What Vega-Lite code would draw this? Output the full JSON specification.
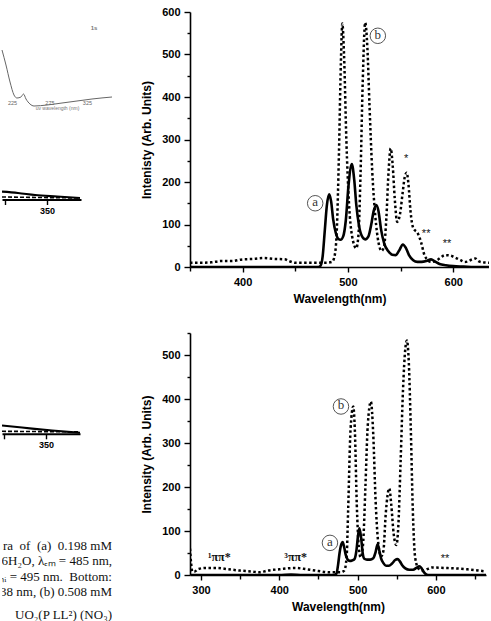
{
  "$schema": "https://vega.github.io/schema/vega-lite/v6.json",
  "padding": {"left": 0, "top": 6, "right": 0, "bottom": 8},
  "background": "white",
  "spacing": 26,
  "config": {
    "view": {"stroke": null},
    "axis": {
      "domainColor": "black", "domainWidth": 1.6, "tickColor": "black", "tickWidth": 1.4,
      "labelFont": "Liberation Sans", "labelFontWeight": "bold", "labelFontSize": 11, "labelColor": "black",
      "titleFont": "Liberation Sans", "titleFontWeight": "bold", "titleFontSize": 12, "titleColor": "black",
      "grid": false
    }
  },
  "datasets": {
    "uv": [
      {"wl":211.7,"A":60},{"wl":217,"A":45},{"wl":222.4,"A":28},{"wl":227.7,"A":15},{"wl":231.7,"A":12},{"wl":237,"A":13},{"wl":240.4,"A":16},{"wl":243.7,"A":11},{"wl":249,"A":6},{"wl":254.4,"A":4},{"wl":271.7,"A":5},{"wl":291.7,"A":7},{"wl":311.7,"A":9},{"wl":331.7,"A":11},{"wl":358.4,"A":13}
    ],
    "uvNote": [{"wl":334.4,"A":82,"label":"1s"}],
    "midA": [
      {"wl":323.2,"I":7.8},{"wl":332.7,"I":6.5},{"wl":342.9,"I":4.5},{"wl":356,"I":3},{"wl":369.6,"I":1.5}
    ],
    "midB": [
      {"wl":323.2,"I":2.5},{"wl":347,"I":2},{"wl":369.6,"I":1.5}
    ],
    "lowA": [
      {"wl":323.8,"I":8.3},{"wl":335.7,"I":6.3},{"wl":353.6,"I":3.3},{"wl":370.2,"I":1}
    ],
    "lowB": [
      {"wl":323.8,"I":2.5},{"wl":347,"I":2.2},{"wl":370.2,"I":2}
    ],
    "caption": [
      {"row":1,"t":"ra\u00a0\u00a0of\u00a0\u00a0(a)\u00a0\u00a00.198\u00a0mM"},
      {"row":2,"t":"6H₂O, λₑₘ = 485 nm,"},
      {"row":3,"t":"ₙᵢ = 495 nm.\u00a0\u00a0Bottom:"},
      {"row":4,"t":"38 nm, (b) 0.508 mM"},
      {"row":5.5,"t":"UO₂(P LL²) (NO₃)"}
    ],
    "topA": [
      {"wl":350,"I":0},{"wl":400,"I":0},{"wl":450,"I":0},{"wl":472,"I":0},{"wl":474,"I":3},{"wl":476,"I":25},{"wl":478,"I":85},{"wl":480,"I":145},{"wl":482.2,"I":171},{"wl":484,"I":155},{"wl":486,"I":112},{"wl":488.5,"I":80},{"wl":491,"I":66},{"wl":493,"I":64},{"wl":495.5,"I":72},{"wl":498,"I":110},{"wl":500.5,"I":190},{"wl":503.7,"I":242},{"wl":506,"I":205},{"wl":508,"I":145},{"wl":510.5,"I":98},{"wl":513,"I":74},{"wl":516.4,"I":65},{"wl":519.5,"I":72},{"wl":522,"I":98},{"wl":524.5,"I":132},{"wl":527,"I":146},{"wl":529,"I":132},{"wl":531.5,"I":88},{"wl":534.5,"I":55},{"wl":538,"I":38},{"wl":542,"I":29},{"wl":545.5,"I":28},{"wl":548.5,"I":38},{"wl":552.2,"I":53},{"wl":555,"I":45},{"wl":558,"I":28},{"wl":562,"I":16},{"wl":566,"I":12},{"wl":570,"I":12},{"wl":574.5,"I":14},{"wl":579,"I":18},{"wl":582.5,"I":13},{"wl":587,"I":7},{"wl":593,"I":4},{"wl":600,"I":2},{"wl":610,"I":1},{"wl":620,"I":0},{"wl":634,"I":0}
    ],
    "topB": [
      {"wl":350,"I":10},{"wl":360,"I":10},{"wl":370,"I":11},{"wl":380,"I":14},{"wl":390,"I":14},{"wl":400,"I":18},{"wl":410,"I":19},{"wl":420,"I":21},{"wl":430,"I":19},{"wl":440,"I":18},{"wl":445,"I":13},{"wl":450,"I":10},{"wl":460,"I":10},{"wl":470,"I":10},{"wl":480,"I":10},{"wl":485,"I":12},{"wl":487.5,"I":28},{"wl":489.5,"I":90},{"wl":491.5,"I":270},{"wl":493.3,"I":480},{"wl":494.7,"I":573},{"wl":496.3,"I":500},{"wl":498.5,"I":300},{"wl":501,"I":150},{"wl":504,"I":72},{"wl":507.9,"I":44},{"wl":510,"I":75},{"wl":512,"I":220},{"wl":514,"I":430},{"wl":516.4,"I":575},{"wl":518.5,"I":515},{"wl":520.5,"I":380},{"wl":523,"I":230},{"wl":526,"I":120},{"wl":529,"I":58},{"wl":532,"I":38},{"wl":534.3,"I":48},{"wl":536.5,"I":115},{"wl":538.5,"I":220},{"wl":540.6,"I":279},{"wl":542.5,"I":240},{"wl":544.5,"I":160},{"wl":546.8,"I":106},{"wl":549.5,"I":125},{"wl":552,"I":175},{"wl":554,"I":212},{"wl":555.8,"I":222},{"wl":557.5,"I":195},{"wl":559.5,"I":130},{"wl":562,"I":92},{"wl":566.4,"I":79},{"wl":569.5,"I":58},{"wl":572.7,"I":28},{"wl":575.5,"I":17},{"wl":579,"I":12},{"wl":584,"I":15},{"wl":588,"I":22},{"wl":592,"I":28},{"wl":597,"I":27},{"wl":602,"I":22},{"wl":607,"I":16},{"wl":611,"I":12},{"wl":615,"I":14},{"wl":618,"I":18},{"wl":621,"I":20},{"wl":624,"I":14},{"wl":628,"I":11},{"wl":634,"I":10}
    ],
    "topCircles": [
      {"wl":528.4,"I":544,"label":"b"},{"wl":468.9,"I":150,"label":"a"}
    ],
    "topStars": [
      {"wl":555.3,"I":254,"label":"*"},{"wl":574.3,"I":78,"label":"**"},{"wl":594.2,"I":54,"label":"**"}
    ],
    "botA": [
      {"wl":286,"I":0},{"wl":350,"I":0},{"wl":400,"I":0},{"wl":415,"I":1},{"wl":430,"I":0},{"wl":470,"I":0},{"wl":473,"I":3},{"wl":475,"I":22},{"wl":477,"I":50},{"wl":479.3,"I":70},{"wl":481,"I":75},{"wl":483,"I":62},{"wl":485,"I":45},{"wl":487.3,"I":35},{"wl":490,"I":32},{"wl":493,"I":33},{"wl":496,"I":36},{"wl":498.5,"I":55},{"wl":500.5,"I":88},{"wl":502.3,"I":106},{"wl":504.5,"I":85},{"wl":506.5,"I":50},{"wl":508.6,"I":37},{"wl":512,"I":35},{"wl":516,"I":35},{"wl":520,"I":38},{"wl":523,"I":52},{"wl":525.6,"I":70},{"wl":527.8,"I":55},{"wl":530,"I":38},{"wl":533,"I":27},{"wl":536.3,"I":21},{"wl":540,"I":21},{"wl":544,"I":26},{"wl":548,"I":34},{"wl":551,"I":36},{"wl":554,"I":31},{"wl":557,"I":22},{"wl":561,"I":15},{"wl":566,"I":12},{"wl":571,"I":12},{"wl":575,"I":16},{"wl":578.8,"I":20},{"wl":581.5,"I":16},{"wl":584,"I":8},{"wl":587,"I":2},{"wl":590,"I":0},{"wl":664,"I":0}
    ],
    "botB": [
      {"wl":286,"I":60},{"wl":287.5,"I":25},{"wl":289,"I":8},{"wl":292,"I":8},{"wl":296,"I":13},{"wl":305,"I":16},{"wl":320,"I":16},{"wl":335,"I":13},{"wl":350,"I":10},{"wl":365,"I":8},{"wl":375,"I":6},{"wl":385,"I":10},{"wl":400,"I":13},{"wl":420,"I":16},{"wl":435,"I":13},{"wl":450,"I":9},{"wl":465,"I":6},{"wl":478,"I":6},{"wl":483,"I":10},{"wl":486,"I":40},{"wl":488,"I":150},{"wl":491,"I":330},{"wl":494.5,"I":383},{"wl":496.5,"I":330},{"wl":499,"I":160},{"wl":501.5,"I":65},{"wl":504,"I":40},{"wl":507,"I":70},{"wl":510,"I":200},{"wl":513,"I":340},{"wl":517,"I":394},{"wl":520,"I":320},{"wl":523,"I":170},{"wl":526,"I":80},{"wl":530,"I":42},{"wl":533,"I":55},{"wl":536,"I":140},{"wl":540.5,"I":197},{"wl":543,"I":160},{"wl":546,"I":95},{"wl":549.5,"I":68},{"wl":552,"I":110},{"wl":555,"I":260},{"wl":558,"I":420},{"wl":561,"I":515},{"wl":563,"I":533},{"wl":565.5,"I":480},{"wl":568,"I":330},{"wl":570.5,"I":150},{"wl":573.5,"I":40},{"wl":578,"I":14},{"wl":584,"I":10},{"wl":590,"I":14},{"wl":595,"I":17},{"wl":610,"I":16},{"wl":625,"I":15},{"wl":640,"I":13},{"wl":655,"I":10},{"wl":664,"I":8}
    ],
    "botCircles": [
      {"wl":478.8,"I":383,"label":"b"},{"wl":464.7,"I":73,"label":"a"}
    ],
    "botStars": [
      {"wl":611.6,"I":36,"label":"**"}
    ],
    "botPi": [
      {"wl":323.4,"I":40,"label":"¹ππ*"},{"wl":421,"I":40,"label":"³ππ*"}
    ]
  },
  "hconcat": [
    {
      "spacing": 0,
      "bounds": "flush",
      "vconcat": [
        {
          "width": 110, "height": 88,
          "layer": [
            {
              "data": {"name": "uv"},
              "mark": {"type": "line", "color": "#666", "strokeWidth": 1, "interpolate": "monotone"},
              "encoding": {
                "x": {"field": "wl", "type": "quantitative", "scale": {"domain": [211.7, 358.4], "nice": false, "zero": false},
                      "axis": {"values": [225, 250, 275, 300, 325], "labelOverlap": false, "domain": false, "ticks": false, "labelPadding": 0, "labelFontSize": 5.5, "labelFontWeight": "normal", "labelColor": "#666", "title": "uv wavelength (nm)", "titleFontSize": 5, "titleFontWeight": "normal", "titleColor": "#777", "titlePadding": 0}},
                "y": {"field": "A", "type": "quantitative", "scale": {"domain": [10, 98], "nice": false, "zero": false}, "axis": null}
              }
            },
            {
              "data": {"name": "uvNote"},
              "mark": {"type": "text", "fontSize": 6, "font": "Liberation Sans", "fontWeight": "bold", "color": "#777"},
              "encoding": {
                "x": {"field": "wl", "type": "quantitative"},
                "y": {"field": "A", "type": "quantitative"},
                "text": {"field": "label"}
              }
            }
          ]
        },
        {
          "width": 79, "height": 99.5,
          "layer": [
            {
              "data": {"name": "midA"},
              "mark": {"type": "line", "color": "black", "strokeWidth": 2.2, "interpolate": "monotone", "clip": true},
              "encoding": {
                "x": {"field": "wl", "type": "quantitative", "scale": {"domain": [323.2, 370.2], "nice": false, "zero": false},
                      "axis": {"values": [325, 350], "labelExpr": "datum.value == 350 ? '350' : ''", "tickSize": 5, "labelPadding": 2, "labelFontSize": 9, "title": null, "domainWidth": 2}},
                "y": {"field": "I", "type": "quantitative", "scale": {"domain": [0, 99.5], "nice": false}, "axis": null}
              }
            },
            {
              "data": {"name": "midB"},
              "mark": {"type": "line", "color": "black", "strokeWidth": 1.6, "strokeDash": [4, 2], "clip": true},
              "encoding": {
                "x": {"field": "wl", "type": "quantitative"},
                "y": {"field": "I", "type": "quantitative"}
              }
            }
          ]
        },
        {
          "width": 78, "height": 233.8,
          "layer": [
            {
              "data": {"name": "lowA"},
              "mark": {"type": "line", "color": "black", "strokeWidth": 2.2, "interpolate": "monotone", "clip": true},
              "encoding": {
                "x": {"field": "wl", "type": "quantitative", "scale": {"domain": [323.8, 370.2], "nice": false, "zero": false},
                      "axis": {"values": [325, 350], "labelExpr": "datum.value == 350 ? '350' : ''", "tickSize": 5, "labelPadding": 2, "labelFontSize": 9, "title": null, "domainWidth": 2}},
                "y": {"field": "I", "type": "quantitative", "scale": {"domain": [0, 233.8], "nice": false}, "axis": null}
              }
            },
            {
              "data": {"name": "lowB"},
              "mark": {"type": "line", "color": "black", "strokeWidth": 1.6, "strokeDash": [4, 2], "clip": true},
              "encoding": {
                "x": {"field": "wl", "type": "quantitative"},
                "y": {"field": "I", "type": "quantitative"}
              }
            }
          ]
        },
        {
          "width": 110, "height": 190,
          "data": {"name": "caption"},
          "mark": {"type": "text", "font": "Liberation Serif", "fontSize": 13, "color": "#111", "align": "right", "baseline": "middle", "clip": true},
          "encoding": {
            "x": {"value": "width"},
            "y": {"field": "row", "type": "quantitative", "scale": {"domain": [-6.206, 6.05], "reverse": true, "nice": false, "zero": false}, "axis": null},
            "text": {"field": "t"}
          }
        }
      ]
    },
    {
      "spacing": 28,
      "vconcat": [
        {
          "width": 299, "height": 255,
          "resolve": {"axis": {"x": "independent", "y": "independent"}},
          "layer": [
            {
              "data": {"name": "topA"},
              "mark": {"type": "line", "color": "black", "strokeWidth": 2.6, "interpolate": "monotone", "clip": true},
              "encoding": {
                "x": {"field": "wl", "type": "quantitative", "scale": {"domain": [350, 634], "nice": false, "zero": false},
                      "axis": {"orient": "bottom", "values": [400, 500, 600], "tickSize": 5, "labelPadding": 4, "titlePadding": 6, "title": "Wavelength(nm)"}},
                "y": {"field": "I", "type": "quantitative", "scale": {"domain": [0, 600], "nice": false},
                      "axis": {"orient": "left", "values": [0,100,200,300,400,500,600], "tickSize": 6, "labelPadding": 4, "titlePadding": 8, "title": "Intenisty (Arb. Units)"}}
              }
            },
            {
              "data": {"name": "topB"},
              "mark": {"type": "line", "color": "black", "strokeWidth": 2.5, "strokeDash": [2.5, 2.5], "interpolate": "monotone", "clip": true},
              "encoding": {
                "x": {"field": "wl", "type": "quantitative", "axis": {"orient": "bottom", "values": [350, 450, 550], "tickSize": 4, "labels": false, "domain": false, "title": null}},
                "y": {"field": "I", "type": "quantitative", "axis": {"orient": "left", "values": [50,150,250,350,450,550], "tickSize": 3, "labels": false, "domain": false, "title": null}}
              }
            },
            {
              "data": {"name": "topCircles"},
              "mark": {"type": "point", "shape": "circle", "size": 240, "filled": true, "fill": "white", "stroke": "#555", "strokeWidth": 1, "opacity": 1},
              "encoding": {
                "x": {"field": "wl", "type": "quantitative", "axis": null},
                "y": {"field": "I", "type": "quantitative", "axis": null}
              }
            },
            {
              "data": {"name": "topCircles"},
              "mark": {"type": "text", "font": "Liberation Serif", "fontSize": 13, "fill": "#333", "baseline": "middle", "align": "center", "dy": -1},
              "encoding": {
                "x": {"field": "wl", "type": "quantitative", "axis": null},
                "y": {"field": "I", "type": "quantitative", "axis": null},
                "text": {"field": "label"}
              }
            },
            {
              "data": {"name": "topStars"},
              "mark": {"type": "text", "font": "Liberation Sans", "fontSize": 11, "fill": "#111", "baseline": "middle", "align": "center"},
              "encoding": {
                "x": {"field": "wl", "type": "quantitative", "axis": null},
                "y": {"field": "I", "type": "quantitative", "axis": null},
                "text": {"field": "label"}
              }
            }
          ]
        },
        {
          "width": 296, "height": 242,
          "resolve": {"axis": {"x": "independent", "y": "independent"}},
          "layer": [
            {
              "data": {"name": "botA"},
              "mark": {"type": "line", "color": "black", "strokeWidth": 2.6, "interpolate": "monotone", "clip": true},
              "encoding": {
                "x": {"field": "wl", "type": "quantitative", "scale": {"domain": [286, 664], "nice": false, "zero": false},
                      "axis": {"orient": "bottom", "values": [300, 400, 500, 600], "tickSize": 5, "labelPadding": 4, "titlePadding": 6, "title": "Wavelength(nm)"}},
                "y": {"field": "I", "type": "quantitative", "scale": {"domain": [0, 550], "nice": false},
                      "axis": {"orient": "left", "values": [0,100,200,300,400,500], "tickSize": 6, "labelPadding": 4, "titlePadding": 8, "title": "Intensity (Arb. Units)"}}
              }
            },
            {
              "data": {"name": "botB"},
              "mark": {"type": "line", "color": "black", "strokeWidth": 2.5, "strokeDash": [2.5, 2.5], "interpolate": "monotone", "clip": true},
              "encoding": {
                "x": {"field": "wl", "type": "quantitative", "axis": {"orient": "bottom", "values": [350, 450, 550, 650], "tickSize": 4, "labels": false, "domain": false, "title": null}},
                "y": {"field": "I", "type": "quantitative", "axis": {"orient": "left", "values": [50,150,250,350,450,550], "tickSize": 3, "labels": false, "domain": false, "title": null}}
              }
            },
            {
              "data": {"name": "botCircles"},
              "mark": {"type": "point", "shape": "circle", "size": 240, "filled": true, "fill": "white", "stroke": "#555", "strokeWidth": 1, "opacity": 1},
              "encoding": {
                "x": {"field": "wl", "type": "quantitative", "axis": null},
                "y": {"field": "I", "type": "quantitative", "axis": null}
              }
            },
            {
              "data": {"name": "botCircles"},
              "mark": {"type": "text", "font": "Liberation Serif", "fontSize": 13, "fill": "#333", "baseline": "middle", "align": "center", "dy": -1},
              "encoding": {
                "x": {"field": "wl", "type": "quantitative", "axis": null},
                "y": {"field": "I", "type": "quantitative", "axis": null},
                "text": {"field": "label"}
              }
            },
            {
              "data": {"name": "botStars"},
              "mark": {"type": "text", "font": "Liberation Sans", "fontSize": 11, "fill": "#111", "baseline": "middle", "align": "center"},
              "encoding": {
                "x": {"field": "wl", "type": "quantitative", "axis": null},
                "y": {"field": "I", "type": "quantitative", "axis": null},
                "text": {"field": "label"}
              }
            },
            {
              "data": {"name": "botPi"},
              "mark": {"type": "text", "font": "Liberation Serif", "fontSize": 12, "fontWeight": "bold", "fill": "#111", "baseline": "middle", "align": "center"},
              "encoding": {
                "x": {"field": "wl", "type": "quantitative", "axis": null},
                "y": {"field": "I", "type": "quantitative", "axis": null},
                "text": {"field": "label"}
              }
            }
          ]
        }
      ]
    }
  ]
}
